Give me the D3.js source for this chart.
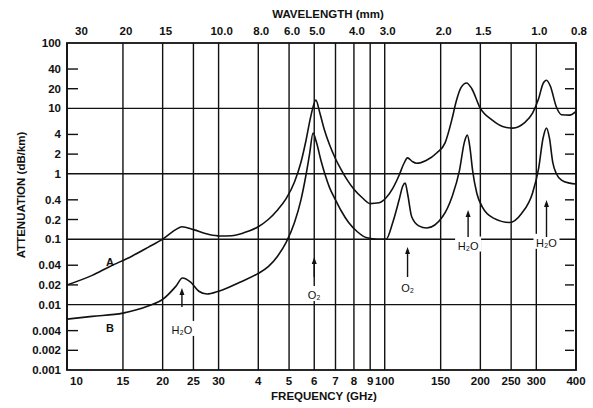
<!DOCTYPE html>
<html>
<head>
<meta charset="utf-8">
<script src="https://cdn.jsdelivr.net/npm/d3@7"></script>
<style>
  body { margin: 0; background: #fff; }
  svg { display: block; }
  text { font-family: "Liberation Sans", Arial, sans-serif; font-weight: bold; fill: #111; }
</style>
</head>
<body>
<svg id="chart" width="593" height="408"></svg>
<script>
// frequency axis (GHz), bottom
const freqTicks  = [10, 15, 20, 25, 30, 40, 50, 60, 70, 80, 90, 100, 150, 200, 250, 300, 400];
const freqLabels = ["10", "15", "20", "25", "30", "4", "5", "6", "7", "8", "9", "100", "150", "200", "250", "300", "400"];
// wavelength labels (mm), top, and the frequency grid line each one sits on
const waveLabels = ["30", "20", "15", "10.0", "8.0", "6.0", "5.0", "4.0", "3.0", "2.0", "1.5", "1.0", "0.8"];
const waveAtFreq = [10, 15, 20, 30, 40, 50, 60, 80, 100, 150, 200, 300, 400];
// attenuation axis (dB/km)
const attTicks  = [100, 40, 20, 10, 4, 2, 1, 0.4, 0.2, 0.1, 0.04, 0.02, 0.01, 0.004, 0.002, 0.001];
const attLabels = ["100", "40", "20", "10", "4", "2", "1", "0.4", "0.2", "0.1", "0.04", "0.02", "0.01", "0.004", "0.002", "0.001"];
const attGrid   = [10, 1, 0.1, 0.01];

// curve A
const freqA = [10, 12, 13.6, 16, 18, 20, 22, 23, 25, 28, 30.3, 33, 36, 40, 43, 46, 49, 52, 54.5, 56.5, 58.5, 60.7, 62.5, 64.5, 67, 70, 73, 76, 80, 85, 90, 96, 101, 106, 111, 115, 118, 122, 126, 135, 146, 155, 163, 168, 174, 181, 188, 199, 218, 235, 253, 275, 292, 305, 315, 323, 332, 347, 360, 382, 400];
const attA  = [0.020, 0.028, 0.038, 0.055, 0.075, 0.10, 0.14, 0.155, 0.14, 0.118, 0.112, 0.113, 0.125, 0.155, 0.2, 0.28, 0.42, 0.75, 1.5, 3.2, 7.5, 13.4, 8.5, 4.8, 2.8, 1.7, 1.15, 0.82, 0.58, 0.43, 0.35, 0.36, 0.43, 0.6, 0.95, 1.45, 1.75, 1.55, 1.45, 1.6, 2.1, 3.0, 7, 13, 21, 24.5, 20, 10.5, 6.6, 5.3, 5.0, 6.0, 8.5, 14, 24, 27, 22, 10.5, 8, 7.9, 9];

// curve B
const freqB = [10, 12, 15, 18, 20, 22, 23.1, 24.5, 26, 27.6, 30, 35, 40, 43, 46, 49, 52, 54.5, 56.5, 58, 59.5, 61, 63, 65, 67, 70, 73, 77, 82, 88, 95, 101, 106, 111, 114, 116, 118, 121.6, 128, 135.6, 152, 163, 172, 178, 182, 185.5, 189, 195, 203, 220, 247, 270, 292, 305, 315, 323, 330, 338, 347, 360, 382, 400];
const attB  = [0.006, 0.0066, 0.0074, 0.0095, 0.012, 0.019, 0.0255, 0.022, 0.016, 0.0145, 0.016, 0.022, 0.030, 0.038, 0.055, 0.09, 0.18, 0.4, 0.95, 2.0, 4.2, 3.0, 1.6, 0.95, 0.62, 0.4, 0.27, 0.18, 0.13, 0.105, 0.1, 0.1, 0.18, 0.4, 0.65, 0.72, 0.5, 0.22, 0.16, 0.148, 0.22, 0.45, 1.14, 3.0, 3.9, 2.5, 1.14, 0.5, 0.31, 0.21, 0.18, 0.25, 0.51, 1.2, 3.5, 5.0, 3.5, 1.5, 1.0, 0.8, 0.72, 0.7];

// absorption lines: arrow frequency, arrow top/bottom and label level (dB/km)
const lineNames  = ["H₂O", "O₂", "O₂", "H₂O", "H₂O"];
const lineFreq   = [23, 60, 118, 183, 323];
const arrowTop   = [0.018, 0.0535, 0.076, 0.279, 0.398];
const arrowBot   = [0.0092, 0.0264, 0.0264, 0.108, 0.108];
const labelLevel = [0.0041, 0.014, 0.018, 0.08, 0.088];

const svg = d3.select("#chart");
const mLeft = 67, mRight = 576, mTop = 43, mBottom = 370;

const x = d3.scaleLog().domain([10, 400]).range([mLeft, mRight]);
const y = d3.scaleLog().domain([0.001, 100]).range([mBottom, mTop]);

// vertical grid
svg.append("g").selectAll("line")
  .data(freqTicks)
  .enter().append("line")
    .attr("x1", d => x(d)).attr("x2", d => x(d))
    .attr("y1", mTop).attr("y2", mBottom)
    .attr("stroke", "#111").attr("stroke-width", 1.4);

// horizontal grid
svg.append("g").selectAll("line")
  .data(attGrid)
  .enter().append("line")
    .attr("x1", mLeft).attr("x2", mRight)
    .attr("y1", d => y(d)).attr("y2", d => y(d))
    .attr("stroke", "#111").attr("stroke-width", 1.4);

// minor ticks inside, both sides
const minor = attTicks.filter(d => !attGrid.includes(d) && d != 100 && d != 0.001);
svg.append("g").selectAll("line")
  .data(minor)
  .enter().append("line")
    .attr("x1", mLeft).attr("x2", mLeft + 11)
    .attr("y1", d => y(d)).attr("y2", d => y(d))
    .attr("stroke", "#111").attr("stroke-width", 1.4);
svg.append("g").selectAll("line")
  .data(minor)
  .enter().append("line")
    .attr("x1", mRight - 11).attr("x2", mRight - 2)
    .attr("y1", d => y(d)).attr("y2", d => y(d))
    .attr("stroke", "#111").attr("stroke-width", 1.4);

// frame
svg.append("rect")
  .attr("x", mLeft).attr("y", mTop)
  .attr("width", mRight - mLeft).attr("height", mBottom - mTop)
  .attr("fill", "none").attr("stroke", "#111").attr("stroke-width", 1.8);

// curves
const line = d3.line()
  .x(d => x(d[0]))
  .y(d => y(d[1]))
  .curve(d3.curveMonotoneX);

svg.append("path")
  .datum(freqA.map((f, i) => [f, attA[i]]))
  .attr("d", line)
  .attr("fill", "none").attr("stroke", "#111").attr("stroke-width", 1.6);
svg.append("path")
  .datum(freqB.map((f, i) => [f, attB[i]]))
  .attr("d", line)
  .attr("fill", "none").attr("stroke", "#111").attr("stroke-width", 1.6);

// arrows and labels for the absorption lines
const ann = svg.append("g");
lineNames.forEach((name, i) => {
  let cx = x(lineFreq[i]);
  let ly = y(labelLevel[i]);
  ann.append("rect")
    .attr("x", cx - 13).attr("y", ly - 9)
    .attr("width", 26).attr("height", 15)
    .attr("fill", "#fff");
  ann.append("text")
    .attr("x", cx).attr("y", ly + 4)
    .attr("text-anchor", "middle")
    .style("font-size", "11px").style("font-weight", "normal")
    .text(name);
  let yt = y(arrowTop[i]), yb = y(arrowBot[i]);
  ann.append("line")
    .attr("x1", cx).attr("x2", cx)
    .attr("y1", yt + 4).attr("y2", yb)
    .attr("stroke", "#111").attr("stroke-width", 1.4);
  ann.append("path")
    .attr("d", "M" + cx + "," + yt + "L" + (cx - 2.5) + "," + (yt + 7) + "L" + (cx + 2.5) + "," + (yt + 7) + "Z")
    .attr("fill", "#111");
});

// curve names
svg.append("text").attr("x", x(13.65)).attr("y", y(0.0448) + 4)
  .attr("text-anchor", "middle").style("font-size", "11px").text("A");
svg.append("text").attr("x", x(13.65)).attr("y", y(0.0044) + 4)
  .attr("text-anchor", "middle").style("font-size", "11px").text("B");

// bottom tick labels
svg.append("g").selectAll("text")
  .data(freqTicks)
  .enter().append("text")
    .attr("x", (d, i) => i == 0 ? x(d) + 3 : x(d))
    .attr("y", 385)
    .attr("text-anchor", (d, i) => i == 0 ? "start" : "middle")
    .style("font-size", "11.5px")
    .text((d, i) => freqLabels[i]);

// top tick labels (wavelength)
svg.append("g").selectAll("text")
  .data(waveAtFreq)
  .enter().append("text")
    .attr("x", (d, i) => i == 0 ? x(d) + 8 : x(d) + 3)
    .attr("y", 35)
    .attr("text-anchor", (d, i) => i == 0 ? "start" : "middle")
    .style("font-size", "11.5px")
    .text((d, i) => waveLabels[i]);

// left tick labels
svg.append("g").selectAll("text")
  .data(attTicks)
  .enter().append("text")
    .attr("x", 61)
    .attr("y", d => y(d) + 4)
    .attr("text-anchor", "end")
    .style("font-size", "11.5px")
    .text((d, i) => attLabels[i]);

// axis titles
svg.append("text").attr("x", 328).attr("y", 18)
  .attr("text-anchor", "middle").style("font-size", "11.5px").text("WAVELENGTH (mm)");
svg.append("text").attr("x", 324).attr("y", 400)
  .attr("text-anchor", "middle").style("font-size", "11.5px").text("FREQUENCY (GHz)");
svg.append("text")
  .attr("transform", "translate(25,195) rotate(-90)")
  .attr("text-anchor", "middle").style("font-size", "11.5px").text("ATTENUATION (dB/km)");
</script>
</body>
</html>
